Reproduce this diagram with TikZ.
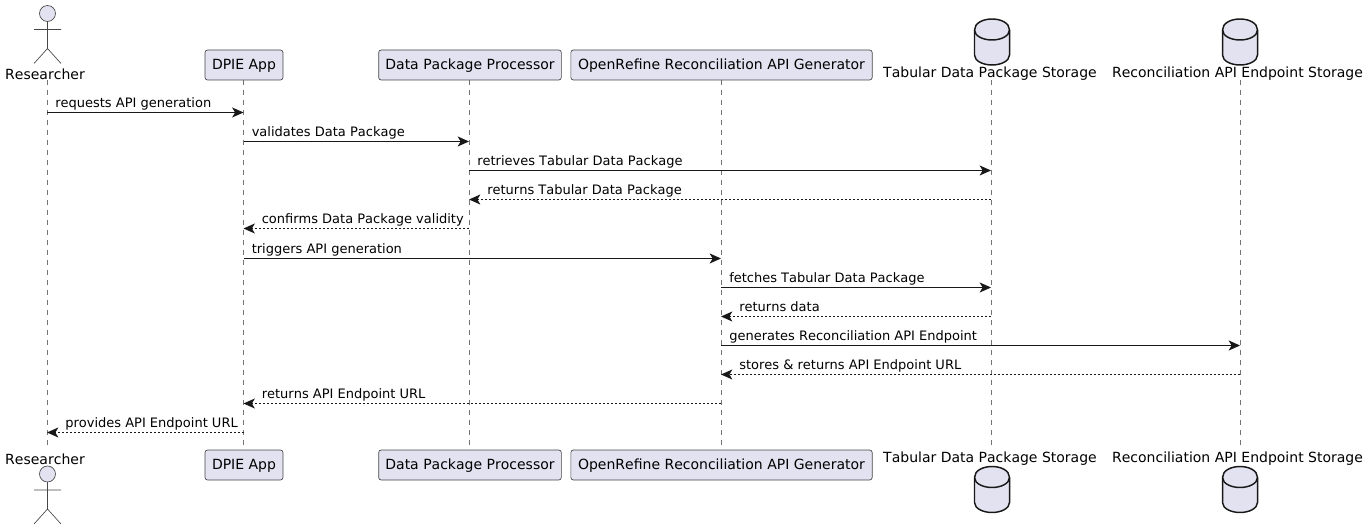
\documentclass[tikz,border=0pt]{standalone}
\usepackage{fontspec}
\setmainfont[Kerning=Off]{DejaVu Sans}
\usetikzlibrary{arrows.meta}

\definecolor{partfill}{HTML}{E2E2F0}
\definecolor{partline}{HTML}{181818}

\tikzset{
  partbox/.style={draw=partline!80,fill=partfill,line width=0.5pt,rounded corners=1.9pt,
    minimum height=22.5pt,inner xsep=0pt,inner ysep=0pt,text height=9pt,text depth=2pt,
    font=\fontsize{10.5}{12}\selectfont},
  partname/.style={inner sep=0pt,font=\fontsize{10.5}{12}\selectfont},
  lifeline/.style={draw=partline!60,line width=0.4pt,dash pattern=on 3.75pt off 3.75pt},
  call/.style={draw=partline,line width=0.75pt,-{Stealth[length=8.5pt,width=7.5pt,inset=2.2pt]}},
  reply/.style={call,dash pattern=on 1.5pt off 1.5pt},
  msgtext/.style={anchor=base west,inner sep=0pt,font=\fontsize{9.75}{12}\selectfont,yshift=3.4pt},
  dbshape/.pic={
    \draw[draw=partline,fill=partfill,line width=1.1pt]
      (-17.5,-12) .. controls (-17.5,-19) and (-9,-23) .. (0,-23)
      .. controls (9,-23) and (17.5,-19) .. (17.5,-12)
      -- (17.5,13) .. controls (17.5,19) and (9,23) .. (0,23)
      .. controls (-9,23) and (-17.5,19) .. (-17.5,13) -- cycle;
    \draw[draw=partline,line width=1.1pt]
      (-17.5,-12) .. controls (-17.5,-6) and (-9,-2) .. (0,-2)
      .. controls (9,-2) and (17.5,-6) .. (17.5,-12);
  },
  actorshape/.pic={
    \draw[draw=partline!80,fill=partfill,line width=0.5pt] (0,-16) circle (8);
    \draw[draw=partline!80,line width=0.5pt] (0,-8) -- (0,19) (-13.5,0) -- (13.5,0)
      (-13.5,34) -- (0,19) -- (13.5,34);
  }
}

\begin{document}
\begin{tikzpicture}[x=0.75pt,y=-0.75pt]

    \useasboundingbox (0,0) rectangle (1369,530);

    % points on the lifelines, 0 and 13 are the ends
    \foreach \who/\x in {res/47,app/243.5,proc/469,gen/721,tab/991,rec/1240}
      \foreach \i/\y in {0/80,1/112.5,2/141.5,3/170.5,4/199.5,5/228.5,6/258.5,7/287.5,8/316.5,9/345.5,10/374.5,11/403.5,12/432.5,13/449}
        \coordinate (\who\i) at (\x,\y);

    % lifelines
    \foreach \who in {res,app,proc,gen,tab,rec}
      \draw[lifeline] (\who0) -- (\who13);

    % top row
    \pic at (47.5,29.5) {actorshape};
    \node[partname] (resTop) at (45,74) {Researcher};
    \node[partbox,minimum width=58.5pt] (appTop) at (244,65) {DPIE App};
    \node[partbox,minimum width=137pt] (procTop) at (470,65) {Data Package Processor};
    \node[partbox,minimum width=226pt] (genTop) at (721.5,65) {OpenRefine Reconciliation API Generator};
    \pic at (992,42) {dbshape};
    \node[partname] (tabTop) at (990,74) {Tabular Data Package Storage};
    \pic at (1240,42) {dbshape};
    \node[partname] (recTop) at (1237.5,74) {Reconciliation API Endpoint Storage};

    % bottom row
    \node[partname] (resBot) at (45,459) {Researcher};
    \pic at (47.5,490) {actorshape};
    \node[partbox,minimum width=58.5pt] (appBot) at (244,465) {DPIE App};
    \node[partbox,minimum width=137pt] (procBot) at (470,465) {Data Package Processor};
    \node[partbox,minimum width=226pt] (genBot) at (721.5,465) {OpenRefine Reconciliation API Generator};
    \node[partname] (tabBot) at (990,459) {Tabular Data Package Storage};
    \pic at (992,489.5) {dbshape};
    \node[partname] (recBot) at (1237.5,459) {Reconciliation API Endpoint Storage};
    \pic at (1240,489.5) {dbshape};

    % messages
    \draw[call] (res1) -- (app1);
    \node[msgtext,xshift=6pt] (m1) at (res1) {requests API generation};
    \draw[call] (app2) -- (proc2);
    \node[msgtext,xshift=6pt] (m2) at (app2) {validates Data Package};
    \draw[call] (proc3) -- (tab3);
    \node[msgtext,xshift=6pt] (m3) at (proc3) {retrieves Tabular Data Package};
    \draw[reply] (tab4) -- (proc4);
    \node[msgtext,xshift=13.5pt] (m4) at (proc4) {returns Tabular Data Package};
    \draw[reply] (proc5) -- (app5);
    \node[msgtext,xshift=13.5pt] (m5) at (app5) {confirms Data Package validity};
    \draw[call] (app6) -- (gen6);
    \node[msgtext,xshift=6pt] (m6) at (app6) {triggers API generation};
    \draw[call] (gen7) -- (tab7);
    \node[msgtext,xshift=6pt] (m7) at (gen7) {fetches Tabular Data Package};
    \draw[reply] (tab8) -- (gen8);
    \node[msgtext,xshift=13.5pt] (m8) at (gen8) {returns data};
    \draw[call] (gen9) -- (rec9);
    \node[msgtext,xshift=6pt] (m9) at (gen9) {generates Reconciliation API Endpoint};
    \draw[reply] (rec10) -- (gen10);
    \node[msgtext,xshift=13.5pt] (m10) at (gen10) {stores \& returns API Endpoint URL};
    \draw[reply] (gen11) -- (app11);
    \node[msgtext,xshift=13.5pt] (m11) at (app11) {returns API Endpoint URL};
    \draw[reply] (app12) -- (res12);
    \node[msgtext,xshift=13.5pt] (m12) at (res12) {provides API Endpoint URL};

\end{tikzpicture}
\end{document}
